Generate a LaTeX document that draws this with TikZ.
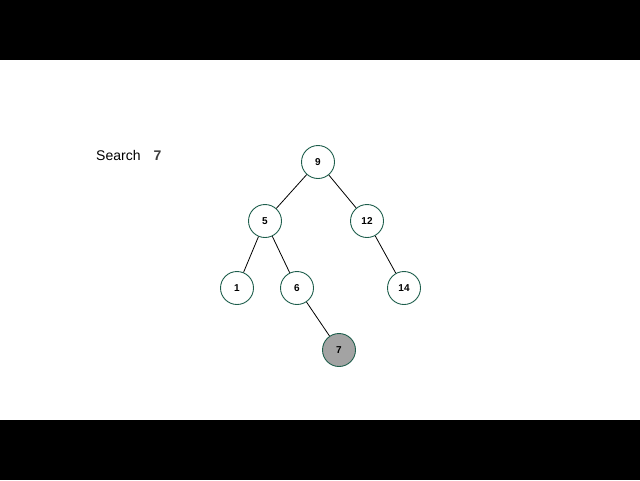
\documentclass[tikz,border=0pt]{standalone}
\usepackage{fontspec}
\setmainfont{Liberation Sans}
\definecolor{rim}{HTML}{1E5E4C}
\definecolor{hit}{HTML}{A3A3A3}
\definecolor{ink}{HTML}{3C3C3C}
\tikzset{
    key/.style={circle, draw=rim, line width=0.9pt, fill=white, minimum size=33pt, inner sep=0pt, font=\fontsize{10}{12}\selectfont\bfseries},
    found/.style={key, fill=hit},
    edge/.style={line width=0.8pt, black}
}
\begin{document}
\begin{tikzpicture}[x=1pt, y=-1pt]
    \useasboundingbox (0,0) rectangle (640,480);
    \fill[black] (0,0) rectangle (640,60);
    \fill[black] (0,420) rectangle (640,480);
    \node[anchor=base west, inner sep=0pt, font=\fontsize{14}{16}\selectfont] (search) at (96,160) {Search};
    \node[anchor=base west, inner sep=0pt, text=ink, font=\fontsize{14}{16}\selectfont\bfseries] (target) at (153.5,160) {7};
    \node[key] (n9) at (318,162) {9};
    \node[key] (n5) at (265,221) {5};
    \node[key] (n12) at (367,221) {12};
    \node[key] (n1) at (237,288) {1};
    \node[key] (n6) at (297,288) {6};
    \node[key] (n14) at (404,288) {14};
    \node[found] (n7) at (339,350) {7};
    \draw[edge] (n9) -- (n5);
    \draw[edge] (n9) -- (n12);
    \draw[edge] (n5) -- (n1);
    \draw[edge] (n5) -- (n6);
    \draw[edge] (n12) -- (n14);
    \draw[edge] (n6) -- (n7);
\end{tikzpicture}
\end{document}
